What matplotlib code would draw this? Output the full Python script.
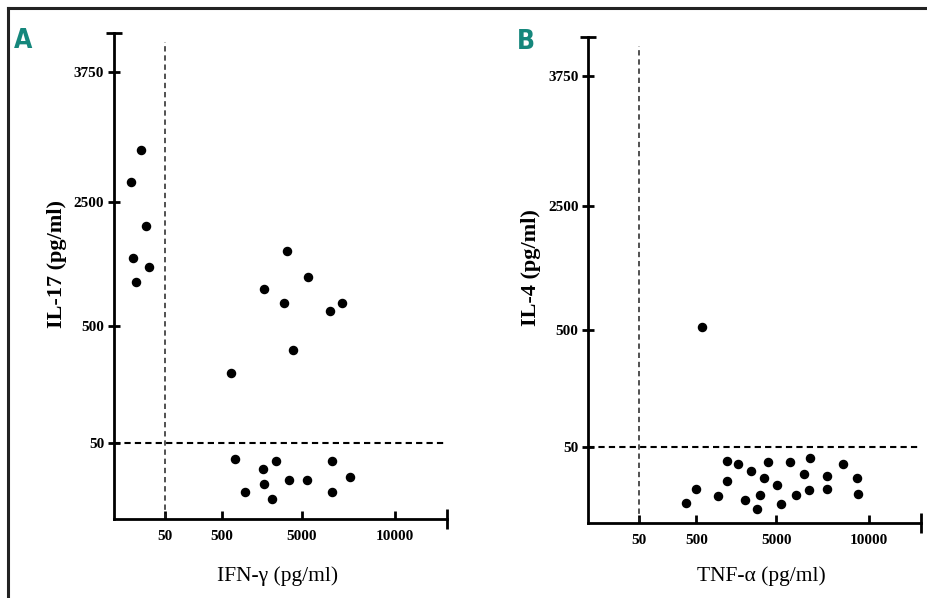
import numpy as np
import matplotlib
matplotlib.use('Agg')
import matplotlib.pyplot as plt
from matplotlib.lines import Line2D

# Panel A: IFN-gamma vs IL-17 (pg/ml)
ifn_g = [26, 17, 31, 19, 34, 22,
         4156, 5323, 2846, 3971, 7167, 6505, 4494, 989,
         1214, 3554, 6629, 2806, 7565, 4252, 5269, 2846, 1777, 6597, 3296]
il17 = [3000, 2690, 2113, 1597, 1456, 1215,
        1715, 1285, 1102, 876, 876, 737, 407, 318,
        39.3, 38.4, 38.4, 32.7, 27.8, 25.9, 25.9, 22.8, 17.6, 17.6, 13.2]

# Panel B: TNF-alpha vs IL-4 (pg/ml)
tnf_a = [829,
         2201, 2843, 4506, 5761, 6815, 8609, 3557, 4325, 6467, 7717, 9348,
         2223, 5022, 495, 6777, 7717, 1707, 4089, 6071, 9386, 416, 3266, 5239, 3924]
il4 = [548,
       40.6, 38.4, 39.8, 39.8, 42.8, 38.8, 33.9, 29.5, 32.1, 30.8, 29.5,
       27.2, 24.8, 22.1, 21.4, 21.9, 17.4, 18.3, 18.3, 19.2, 12.7, 15.0, 12.0, 8.7]

xticks = [50, 500, 5000, 10000]
yticks = [50, 500, 2500, 3750]
cutoff = 50

# piecewise axis (segments of unequal length, as in the original figure)
xk = [0, 50, 500, 5000, 10000, 15000]
xp = [0, 51, 108, 188, 281, 333]
yk = [0, 50, 500, 2500, 3750, 4125]
yp = [0, 76, 193, 317, 447, 486]


def fwd(k, p):
    return lambda v: np.interp(v, k, p)


def inv(k, p):
    return lambda v: np.interp(v, p, k)


serif = 'Liberation Serif'
teal = '#15877c'

fig = plt.figure(figsize=(9.28, 5.98), dpi=100)

# frame lines (top and left edge of the figure)
fig.add_artist(Line2D([8 / 928, 1], [1 - 8 / 598, 1 - 8 / 598], color='#222222', lw=2.2))
fig.add_artist(Line2D([8 / 928, 8 / 928], [0, 1 - 8 / 598], color='#222222', lw=2.2))


def panel(rect, x, y, xlabel, ylabel, letter, letter_xy, xlab_xy, ylab_xy):
    ax = fig.add_axes(rect)
    ax.set_xscale('function', functions=(fwd(xk, xp), inv(xk, xp)))
    ax.set_yscale('function', functions=(fwd(yk, yp), inv(yk, yp)))
    ax.set_xlim(0, 15000)
    ax.set_ylim(0, 4125)
    ax.scatter(x, y, s=34, color='black', zorder=3, clip_on=False)
    ax.axvline(cutoff, ymax=0.981, color='#222222', lw=1.1, ls=(0, (3.5, 2.5)))
    ax.axhline(cutoff, color='black', lw=1.5, ls=(0, (3, 2)))
    for s in ['top', 'right']:
        ax.spines[s].set_visible(False)
    for s in ['left', 'bottom']:
        ax.spines[s].set_linewidth(2.0)
    ax.set_xticks(xticks)
    ax.set_xticklabels([str(t) for t in xticks])
    ax.set_yticks(yticks)
    ax.set_yticklabels([str(t) for t in yticks])
    ax.xaxis.set_minor_locator(plt.NullLocator())
    ax.yaxis.set_minor_locator(plt.NullLocator())
    ax.tick_params(axis='x', direction='in', length=6, width=2, pad=8)
    ax.tick_params(axis='y', direction='inout', length=8, width=2, pad=3)
    for lab in ax.get_xticklabels() + ax.get_yticklabels():
        lab.set_fontfamily(serif)
        lab.set_fontweight('bold')
        lab.set_fontsize(11)
    # end caps of the axes
    ax.plot([0], [1], marker='_', ms=11, mew=2, color='black',
            transform=ax.transAxes, clip_on=False)
    ax.plot([1], [0], marker='|', ms=15, mew=2, color='black',
            transform=ax.transAxes, clip_on=False)
    fig.text(xlab_xy[0] / 928, 1 - xlab_xy[1] / 598, xlabel, family=serif,
             fontsize=15.5, ha='center', va='center')
    fig.text(ylab_xy[0] / 928, 1 - ylab_xy[1] / 598, ylabel, family=serif,
             fontweight='bold', fontsize=16, rotation=90, ha='center', va='center')
    fig.text(letter_xy[0] / 928, 1 - letter_xy[1] / 598, letter,
             family='DejaVu Sans', fontstretch='condensed', fontweight='bold',
             fontsize=19, color=teal, ha='left', va='center')
    return ax


panel([114 / 928, 79 / 598, 333 / 928, 486 / 598], ifn_g, il17,
      'IFN-γ (pg/ml)', 'IL-17 (pg/ml)', 'A', (14, 41), (278, 576), (57, 264))
panel([588.3 / 928, 75.3 / 598, 333 / 928, 486 / 598], tnf_a, il4,
      'TNF-α (pg/ml)', 'IL-4 (pg/ml)', 'B', (517, 42), (761, 576), (531, 268))

fig.savefig('out.png', dpi=100)
